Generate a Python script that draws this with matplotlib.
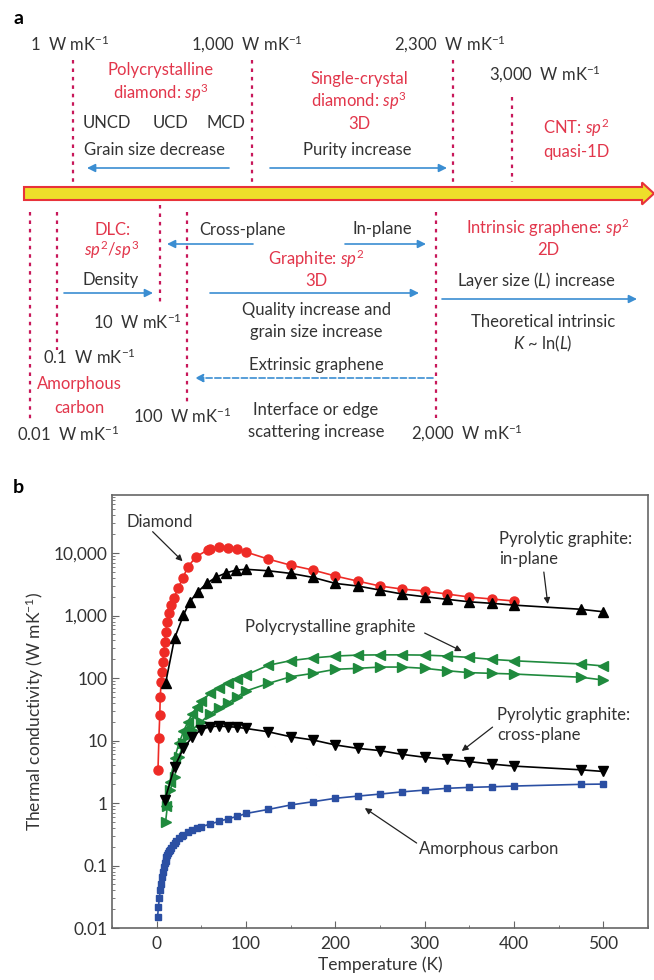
import matplotlib.pyplot as plt
from matplotlib.patches import FancyArrow
from matplotlib.ticker import MultipleLocator, LogLocator, FuncFormatter, NullFormatter

plt.rcParams['font.family'] = ['Lato', 'DejaVu Sans']
plt.rcParams['mathtext.fontset'] = 'custom'
plt.rcParams['mathtext.rm'] = 'Lato'
plt.rcParams['mathtext.it'] = 'Lato:italic'
plt.rcParams['mathtext.default'] = 'regular'

# ---------------- data (panel b) ----------------
T_diamond = [1.5, 2.5, 3.5, 4, 5, 6, 7, 8, 9, 10, 12, 14, 16, 19, 24, 29, 35, 44, 57,
             60, 70, 80, 90, 100, 125, 150, 175, 200, 225, 250, 275, 300, 325, 350, 375, 400]
K_diamond = [3.4, 11, 26, 50, 87, 126, 182, 263, 380, 550, 800, 1080, 1480, 1880, 2720, 3930,
             6030, 8710, 11200, 11600, 12500, 12000, 11600, 10400, 8000, 6400, 5350, 4290,
             3560, 2970, 2650, 2470, 2210, 1980, 1840, 1710]

T_pg_in = [10, 20, 30, 37, 46, 56, 66, 78, 89, 100, 125, 150, 175, 200, 225, 250, 275, 300,
           325, 350, 375, 400, 475, 500]
K_pg_in = [83, 432, 1020, 1660, 2400, 3270, 4080, 4840, 5350, 5500, 5210, 4730, 4080, 3270,
           2970, 2560, 2210, 2000, 1820, 1660, 1570, 1470, 1260, 1150]

T_pg_cross = [9, 20, 30, 40, 50, 60, 70, 80, 90, 100, 125, 150, 175, 200, 225, 250, 275, 300,
              325, 350, 375, 400, 475, 500]
K_pg_cross = [1.1, 3.8, 7.5, 11.5, 15, 16.7, 17, 16.7, 16.3, 15.6, 13.8, 11.5, 10.2, 8.5,
              7.5, 6.9, 6.0, 5.4, 5.0, 4.6, 4.2, 3.9, 3.4, 3.2]

T_poly_1 = [10, 15, 20, 25, 30, 35, 40, 45, 50, 60, 70, 80, 90, 100, 125, 150, 175, 200, 225,
            250, 275, 300, 325, 350, 375, 400, 475, 500]
K_poly_1 = [0.9, 2.2, 5.2, 9, 14, 20, 27, 35, 43, 57, 70, 84, 97, 112, 160, 190, 210, 225,
            233, 235, 235, 233, 225, 214, 199, 189, 168, 156]

T_poly_2 = [10, 12, 15, 20, 25, 30, 35, 40, 50, 60, 70, 80, 90, 100, 125, 150, 175, 200, 225,
            250, 275, 300, 325, 350, 375, 400, 475, 500]
K_poly_2 = [0.5, 0.9, 1.6, 2.6, 5.5, 9, 12, 15, 20, 27, 33, 40, 50, 62, 82, 105, 119, 138,
            143, 150, 150, 143, 131, 122, 119, 116, 103, 93]

T_amorph = [1, 2, 3, 4, 5, 6, 7, 8, 9, 10, 11, 12, 13, 14, 15, 16, 18, 20, 22, 25, 28, 30, 35,
            40, 45, 50, 60, 70, 80, 90, 100, 125, 150, 175, 200, 225, 250, 275, 300, 325, 350,
            375, 400, 475, 500]
K_amorph = [0.015, 0.022, 0.03, 0.04, 0.05, 0.065, 0.08, 0.095, 0.11, 0.12, 0.135, 0.15,
            0.16, 0.17, 0.18, 0.19, 0.21, 0.23, 0.25, 0.28, 0.30, 0.31, 0.34, 0.37, 0.40, 0.42,
            0.46, 0.51, 0.56, 0.61, 0.68, 0.79, 0.93, 1.05, 1.19, 1.29, 1.39, 1.51, 1.61, 1.72,
            1.78, 1.82, 1.87, 1.99, 2.01]

RED = '#ee2b26'
GREEN = '#1f8a3d'
BLUE = '#2b4fa3'
TXT = '#333333'
RED_TXT = '#e2364b'
DASH = '#c8185a'
ARROW_BLUE = '#3b8ed2'

fig = plt.figure(figsize=(6.54, 9.8), dpi=100)

# ---------------- panel a (schematic, pixel-like coordinates) ----------------
ax_a = fig.add_axes([0, 1 - 470 / 980, 1, 470 / 980])
ax_a.set_xlim(0, 654)
ax_a.set_ylim(470, 0)
ax_a.axis('off')

# yellow scale arrow
ax_a.add_patch(FancyArrow(24, 193.5, 630, 0, width=13, head_width=22, head_length=12,
                          length_includes_head=True, fc='#eede2a', ec='#e8333a', lw=1.5))

# dashed markers: (x, y_top, y_bottom)
dashed = [(73, 60, 182), (252, 60, 182), (453, 60, 182), (512, 97, 182),
          (30, 212, 420), (57, 212, 350), (160, 205, 303), (187, 212, 405), (436, 212, 418)]
for x, y0, y1 in dashed:
    ax_a.plot([x, x], [y0, y1], color=DASH, lw=1.6, ls=(0, (1.6, 2.2)))

# blue arrows: (x_start, x_end, y, dashed)
arrows = [(229, 87, 168, False), (270, 447, 168, False), (64, 153, 293, False),
          (253, 167, 244, False), (345, 426, 244, False), (210, 419, 293, False),
          (433, 195, 378, True), (442, 637, 299, False)]
for xs, xe, y, dsh in arrows:
    ax_a.annotate('', xy=(xe, y), xytext=(xs, y),
                  arrowprops=dict(arrowstyle='-|>', color=ARROW_BLUE, lw=1.2,
                                  ls='--' if dsh else '-', mutation_scale=12,
                                  shrinkA=0, shrinkB=0))

wmk = r'  W mK$^{-1}$'
grey_texts = [
    (70, 44, '1' + wmk), (247, 44, '1,000' + wmk), (450, 44, '2,300' + wmk),
    (545, 74, '3,000' + wmk),
    (107, 123, 'UNCD'), (170, 123, 'UCD'), (226, 123, 'MCD'),
    (155, 150, 'Grain size decrease'), (357, 150, 'Purity increase'),
    (111, 280, 'Density'), (137, 322, '10' + wmk), (89, 357, '0.1' + wmk),
    (68, 434, '0.01' + wmk), (182, 416, '100' + wmk),
    (243, 230, 'Cross-plane'), (382, 229, 'In-plane'),
    (316, 310, 'Quality increase and'), (316, 332, 'grain size increase'),
    (316, 365, 'Extrinsic graphene'),
    (316, 410, 'Interface or edge'), (316, 432, 'scattering increase'),
    (467, 433, '2,000' + wmk),
    (536, 280, r'Layer size ($\it{L}$) increase'),
    (543, 322, 'Theoretical intrinsic'), (543, 344, r'$\it{K}$ ~ ln($\it{L}$)'),
]
red_texts = [
    (161, 70, 'Polycrystalline'), (161, 93, r'diamond: $\it{sp}^3$'),
    (359, 79, 'Single-crystal'), (359, 101, r'diamond: $\it{sp}^3$'), (359, 124, '3D'),
    (576, 128, r'CNT: $\it{sp}^2$'), (576, 152, 'quasi-1D'),
    (113, 230, 'DLC:'), (112, 250, r'$\it{sp}^2/\it{sp}^3$'),
    (79, 384, 'Amorphous'), (79, 408, 'carbon'),
    (316, 259, r'Graphite: $\it{sp}^2$'), (316, 281, '3D'),
    (548, 228, r'Intrinsic graphene: $\it{sp}^2$'), (548, 250, '2D'),
]
for x, y, s in grey_texts:
    ax_a.text(x, y, s, ha='center', va='center', fontsize=12, color=TXT)
for x, y, s in red_texts:
    ax_a.text(x, y, s, ha='center', va='center', fontsize=12, color=RED_TXT)

fig.text(18 / 654, 1 - 18 / 980, 'a', fontsize=14, fontweight='bold', ha='center', va='center')
fig.text(18 / 654, 1 - 487 / 980, 'b', fontsize=14, fontweight='bold', ha='center', va='center')

# ---------------- panel b ----------------
ax = fig.add_axes([112 / 654, 1 - 928 / 980, 536 / 654, 433 / 980])
ax.plot(T_diamond, K_diamond, '-o', color=RED, ms=6.5, lw=1.2)
ax.plot(T_pg_in, K_pg_in, '-^', color='black', ms=7, lw=1.2)
ax.plot(T_poly_1, K_poly_1, '-<', color=GREEN, ms=7, lw=1.2)
ax.plot(T_poly_2, K_poly_2, '->', color=GREEN, ms=7, lw=1.2)
ax.plot(T_pg_cross, K_pg_cross, '-v', color='black', ms=7, lw=1.2)
ax.plot(T_amorph, K_amorph, '-s', color=BLUE, ms=5, lw=1.2)

ax.set_yscale('log')
ax.set_xlim(-50, 550)
ax.set_ylim(0.01, 8.5e4)
ax.xaxis.set_major_locator(MultipleLocator(100))
ax.xaxis.set_minor_locator(MultipleLocator(50))
ax.yaxis.set_major_locator(LogLocator(base=10, numticks=10))
ax.yaxis.set_minor_locator(LogLocator(base=10, subs=range(2, 10), numticks=20))
ax.yaxis.set_minor_formatter(NullFormatter())
ax.yaxis.set_major_formatter(FuncFormatter(lambda v, p: f'{v:,.0f}' if v >= 1 else f'{v:g}'))
ax.tick_params(which='both', direction='in', color='#666666', labelcolor=TXT, labelsize=12.5)
ax.tick_params(which='major', length=5)
ax.tick_params(which='minor', length=2.5)
ax.tick_params(axis='y', pad=3)
ax.tick_params(axis='x', pad=6)
for sp in ax.spines.values():
    sp.set_color('#666666')
    sp.set_linewidth(1.2)
ax.set_xlabel('Temperature (K)', fontsize=12.5, color=TXT, labelpad=3)
ax.set_ylabel(r'Thermal conductivity (W mK$^{-1}$)', fontsize=12.5, color=TXT, labelpad=6)

arrow_kw = dict(arrowstyle='-|>', color='#222222', lw=0.9, mutation_scale=9, shrinkA=0, shrinkB=0)
ax.text(3.4, 3.13e4, 'Diamond', ha='center', va='center', fontsize=12, color=TXT)
ax.annotate('', xy=(29, 7.4e3), xytext=(-4.5, 2.2e4), arrowprops=arrow_kw)
ax.text(383, 1.16e4, 'Pyrolytic graphite:\nin-plane', ha='left', va='center', fontsize=12,
        color=TXT, linespacing=1.3)
ax.annotate('', xy=(437.8, 1528), xytext=(433.4, 4970), arrowprops=arrow_kw)
ax.text(194, 655, 'Polycrystalline graphite', ha='center', va='center', fontsize=12, color=TXT)
ax.annotate('', xy=(341.5, 270), xytext=(300, 525), arrowprops=arrow_kw)
ax.text(380.7, 17.7, 'Pyrolytic graphite:\ncross-plane', ha='left', va='center', fontsize=12,
        color=TXT, linespacing=1.3)
ax.annotate('', xy=(341.5, 6.8), xytext=(376, 16.4), arrowprops=arrow_kw)
ax.text(293.4, 0.184, 'Amorphous carbon', ha='left', va='center', fontsize=12, color=TXT)
ax.annotate('', xy=(233, 0.83), xytext=(291, 0.229), arrowprops=arrow_kw)

fig.savefig('out.png', dpi=100)
